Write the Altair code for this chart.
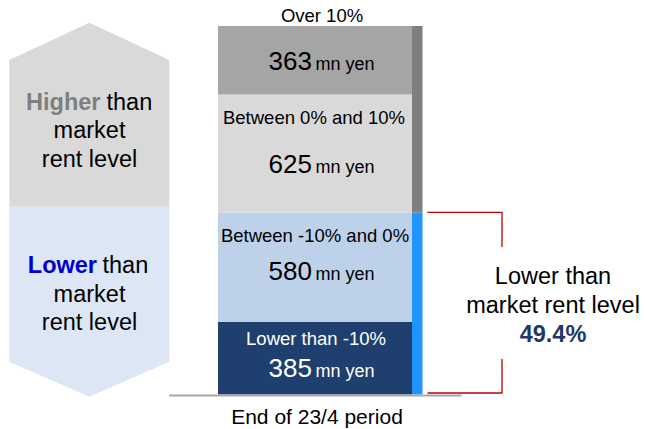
import altair as alt
import pandas as pd

# ---------------- data ----------------
period = "End of 23/4 period"
bands = ["Lower than -10%", "Between -10% and 0%", "Between 0% and 10%", "Over 10%"]
amounts = [385, 580, 625, 363]          # mn yen
groups = ["Lower", "Lower", "Higher", "Higher"]

# ---------------- styles / layout ----------------
seg_colors = ["#1F3F6E", "#BDD1E9", "#D9D9D9", "#A5A5A5"]
seg_text_colors = ["#FFFFFF", "#000000", "#000000", "#000000"]
group_colors = {"Higher": "#7F7F7F", "Lower": "#1E95FF"}
label_dy = [-12.7, -25.6, -29.5, -38.5]
label_dx = [1, 0, -1, 7]
value_dy = [18.8, 12.9, 19.2, 9.75]

FONT = "Liberation Sans"
BIG = 23.5
W, H = 645, 429
BAR_TOP, BAR_BOTTOM = 26, 394.5
BAR_LEFT, BAR_RIGHT = 218, 412

total = sum(amounts)
k = (BAR_BOTTOM - BAR_TOP) / total
y_domain = [-(H - BAR_BOTTOM) / k, BAR_BOTTOM / k]

rows, cum = [], 0
for b, a, g, c, tc in zip(bands, amounts, groups, seg_colors, seg_text_colors):
    rows.append(dict(period=period, band=b, amount=a, group=g,
                     lo=cum, hi=cum + a, mid=cum + a / 2, col=c, tcol=tc))
    cum += a
df = pd.DataFrame(rows)

grp = df.groupby("group", sort=False).agg(lo=("lo", "min"), hi=("hi", "max")).reset_index()
grp["col"] = grp["group"].map(group_colors)
lower_total = float(df.loc[df.group == "Lower", "amount"].sum())
pct_text = f"{lower_total / total * 100:.1f}%"

# band scale placing the single bar between BAR_LEFT and BAR_RIGHT
xscale = alt.Scale(domain=[period], paddingInner=0, paddingOuter=0, range=[BAR_LEFT, BAR_RIGHT])
xenc = alt.X("period:N", scale=xscale, axis=None)
yscale = alt.Scale(domain=y_domain, nice=False, zero=False)

dummy = pd.DataFrame({"d": [0]})

layers = []

# left decorative arrow shapes
gray_path = "M0,-1L0.8696,-0.5946L0.8696,1L-0.8696,1L-0.8696,-0.5946Z"
blue_path = "M-0.8421,-1L0.8421,-1L0.8421,0.6316L0,1L-0.8421,0.6316Z"
layers.append(alt.Chart(dummy).mark_point(shape=gray_path, filled=True, opacity=1,
                                          strokeWidth=0, size=184 ** 2, color="#D9D9D9")
              .encode(x=alt.value(89.3), y=alt.value(114.7)))
layers.append(alt.Chart(dummy).mark_point(shape=blue_path, filled=True, opacity=1,
                                          strokeWidth=0, size=190 ** 2, color="#DCE6F4")
              .encode(x=alt.value(89.3), y=alt.value(301.7)))

# stacked bar
layers.append(alt.Chart(df).mark_bar(strokeWidth=0).encode(
    x=xenc,
    y=alt.Y("lo:Q", scale=yscale, axis=None),
    y2="hi:Q",
    color=alt.Color("col:N", scale=None),
))

# side strips
layers.append(alt.Chart(grp).mark_rect(strokeWidth=0).encode(
    x=alt.value(412), x2=alt.value(422.5),
    y=alt.Y("lo:Q", scale=yscale, axis=None), y2="hi:Q",
    color=alt.Color("col:N", scale=None),
))

# baseline
layers.append(alt.Chart(dummy).mark_rule(color="#A6A6A6", strokeWidth=2).encode(
    x=alt.value(169), x2=alt.value(461.5), y=alt.value(395.5)))

# red bracket
bdf = pd.DataFrame({"y": [lower_total]})
RED = "#C00000"
layers.append(alt.Chart(bdf).mark_rule(color=RED, strokeWidth=1.3).encode(
    x=alt.value(427.5), x2=alt.value(502.5), y=alt.Y("y:Q", scale=yscale, axis=None)))
layers.append(alt.Chart(bdf).mark_rule(color=RED, strokeWidth=1.3).encode(
    x=alt.value(502), y=alt.Y("y:Q", scale=yscale, axis=None), y2=alt.value(247)))
layers.append(alt.Chart(dummy).mark_rule(color=RED, strokeWidth=1.3).encode(
    x=alt.value(502), y=alt.value(359), y2=alt.value(393)))
layers.append(alt.Chart(dummy).mark_rule(color=RED, strokeWidth=1.3).encode(
    x=alt.value(427.5), x2=alt.value(502.5), y=alt.value(393)))

# segment texts
for i in range(len(df)):
    one = alt.Chart(df.iloc[[i]])
    layers.append(one.mark_text(font=FONT, fontSize=18.5, align="center", baseline="alphabetic",
                                dx=label_dx[i], dy=label_dy[i], color=seg_text_colors[i])
                  .encode(x=xenc, y=alt.Y("mid:Q", scale=yscale, axis=None), text="band:N"))
    layers.append(one.mark_text(font=FONT, fontSize=26, align="right", baseline="alphabetic",
                                dx=-3, dy=value_dy[i], color=seg_text_colors[i])
                  .encode(x=xenc, y=alt.Y("mid:Q", scale=yscale, axis=None),
                          text=alt.Text("amount:Q", format="d")))
    layers.append(one.mark_text(font=FONT, fontSize=18, align="left", baseline="alphabetic",
                                dx=0.5, dy=value_dy[i], color=seg_text_colors[i], text="mn yen")
                  .encode(x=xenc, y=alt.Y("mid:Q", scale=yscale, axis=None)))

# category label
layers.append(alt.Chart(pd.DataFrame({"period": [period]}))
              .mark_text(font=FONT, fontSize=21, align="center", baseline="alphabetic", dx=2)
              .encode(x=xenc, y=alt.value(423.5), text="period:N"))


def txt(s, x, y, size=BIG, align="center", bold=False, color="#000000"):
    return alt.Chart(dummy).mark_text(
        font=FONT, fontSize=size, align=align, baseline="alphabetic",
        fontWeight="bold" if bold else "normal", color=color, text=s,
    ).encode(x=alt.value(x), y=alt.value(y))


# left texts
layers += [
    txt("Higher", 100.5, 110, align="right", bold=True, color="#7F7F7F"),
    txt("than", 106.5, 110, align="left"),
    txt("market", 89.5, 138),
    txt("rent level", 89.5, 166.5),
    txt("Lower", 97, 273.3, align="right", bold=True, color="#0000CC"),
    txt("than", 102.5, 273.3, align="left"),
    txt("market", 89.5, 301.7),
    txt("rent level", 89.5, 330),
]

# right annotation
layers += [
    txt("Lower than", 553, 284.3),
    txt("market rent level", 553, 312.7),
    txt(pct_text, 553, 341.5, bold=True, color="#1F3864"),
]

chart = alt.layer(*layers).properties(
    width=W, height=H,
    autosize=alt.AutoSizeParams(type="none"),
    padding=0,
).configure_view(stroke=None)

chart.save("out.html", embed_options={"renderer": "svg", "actions": False})
